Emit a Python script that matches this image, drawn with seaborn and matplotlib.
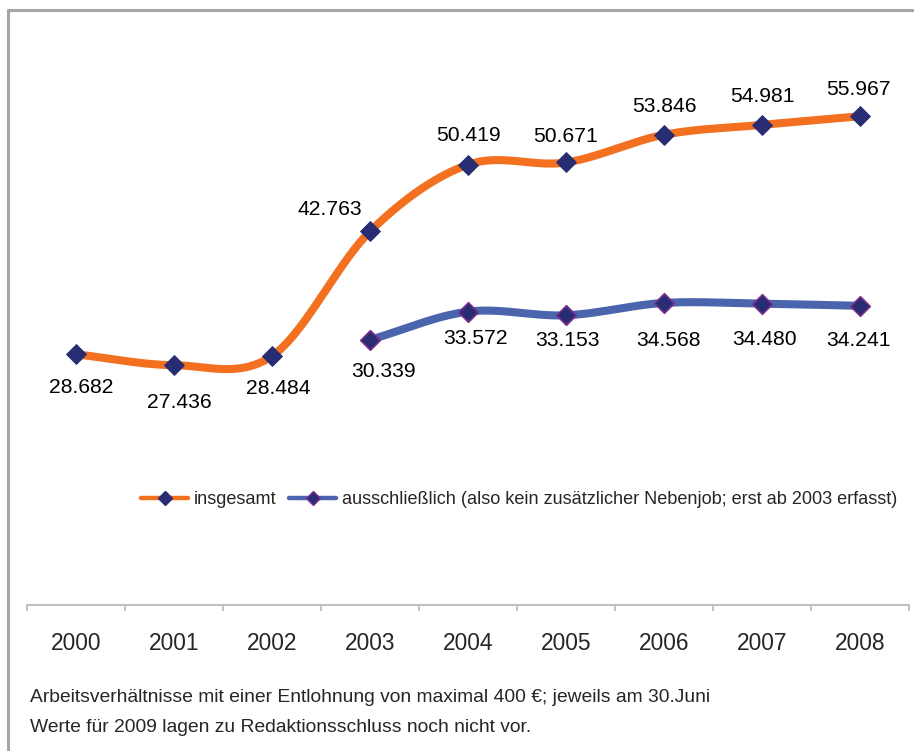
import numpy as np
import pandas as pd
import matplotlib
matplotlib.use("Agg")
import matplotlib.pyplot as plt
from matplotlib.lines import Line2D
import seaborn as sns

# ---- data ----
years = ["2000", "2001", "2002", "2003", "2004", "2005", "2006", "2007", "2008"]
insgesamt = [28.682, 27.436, 28.484, 42.763, 50.419, 50.671, 53.846, 54.981, 55.967]
ausschl_years = ["2003", "2004", "2005", "2006", "2007", "2008"]
ausschl = [30.339, 33.572, 33.153, 34.568, 34.480, 34.241]
series_names = ["insgesamt",
                "ausschließlich (also kein zusätzlicher Nebenjob; erst ab 2003 erfasst)"]
notes = ["Arbeitsverhältnisse mit einer Entlohnung von maximal 400 €; jeweils am 30.Juni",
         "Werte für 2009 lagen zu Redaktionsschluss noch nicht vor."]

# label offsets (pixels, right / down) -- layout only
off_ins = [(5, 33), (5, 37), (6, 32), (-40, -22), (0, -29), (0, -26), (0, -28), (0, -28), (-2, -27)]
off_aus = [(13, 32), (7, 27), (1, 25), (4, 38), (2, 36), (-2, 35)]

ORANGE = "#F37021"
BLUE = "#4A65AD"
NAVY = "#282C72"
PURPLE = "#7A2E8C"
GRAY = "#A6A6A6"

sns.set_style("white")
plt.rcParams["font.family"] = ["Liberation Sans", "DejaVu Sans"]


def smooth(x, y, n=40):
    """Bezier curve through the points with Catmull-Rom tangents (Excel-like smoothing)."""
    P = np.column_stack([x, y]).astype(float)
    Pext = np.vstack([2 * P[0] - P[1], P, 2 * P[-1] - P[-2]])
    out = []
    for i in range(1, len(Pext) - 2):
        p0, p1, p2, p3 = Pext[i - 1], Pext[i], Pext[i + 1], Pext[i + 2]
        c1 = p1 + (p2 - p0) / 6.0
        c2 = p2 - (p3 - p1) / 6.0
        t = np.linspace(0, 1, n)[:, None]
        seg = ((1 - t) ** 3) * p1 + 3 * ((1 - t) ** 2) * t * c1 + 3 * (1 - t) * t ** 2 * c2 + t ** 3 * p2
        out.append(seg if i == 1 else seg[1:])
    s = np.vstack(out)
    return s[:, 0], s[:, 1]


fig = plt.figure(figsize=(9.14, 7.51), dpi=100)
W, H = 914, 751
left_px, right_px = 27, 909
bot_px, top_px = 604.5, 81.1
ax = fig.add_axes([left_px / W, 1 - bot_px / H, (right_px - left_px) / W, (bot_px - top_px) / H])

xi = np.arange(len(years))
xa = np.array([years.index(y) for y in ausschl_years])

sx, sy = smooth(xi, insgesamt)
ax_, ay_ = smooth(xa, ausschl)
df_lines = pd.concat([
    pd.DataFrame({"x": sx, "y": sy, "s": series_names[0]}),
    pd.DataFrame({"x": ax_, "y": ay_, "s": series_names[1]}),
])
sns.lineplot(data=df_lines, x="x", y="y", hue="s", units="s", estimator=None, sort=False,
             palette=[ORANGE, BLUE], linewidth=5.8, legend=False, ax=ax,
             solid_capstyle="butt")

df_pts1 = pd.DataFrame({"x": xi, "y": insgesamt})
df_pts2 = pd.DataFrame({"x": xa, "y": ausschl})
sns.scatterplot(data=df_pts1, x="x", y="y", marker="D", s=100, color=NAVY,
                edgecolor=NAVY, linewidth=0.8, ax=ax, zorder=5)
sns.scatterplot(data=df_pts2, x="x", y="y", marker="D", s=100, color=NAVY,
                edgecolor=PURPLE, linewidth=1.2, ax=ax, zorder=5)


def fmt(v):
    return f"{v:.3f}"


for x, v, (dx, dy) in zip(xi, insgesamt, off_ins):
    ax.annotate(fmt(v), (x, v), xytext=(dx, -dy), textcoords="offset pixels",
                ha="center", va="center", fontsize=15.2, color="black", zorder=6)
for x, v, (dx, dy) in zip(xa, ausschl, off_aus):
    ax.annotate(fmt(v), (x, v), xytext=(dx, -dy), textcoords="offset pixels",
                ha="center", va="center", fontsize=15.2, color="black", zorder=6)

ax.set_xlim(-0.5, len(years) - 0.5)
ax.set_ylim(0, 60)
ax.set_xlabel("")
ax.set_ylabel("")
ax.set_yticks([])
ax.set_xticks(np.arange(-0.5, len(years), 1.0))
ax.set_xticklabels([])
ax.set_xticks(xi, minor=True)
ax.set_xticklabels(years, minor=True)
ax.tick_params(axis="x", which="major", direction="out", length=4.5, width=1.3,
               color="#BFBFBF", bottom=True)
ax.tick_params(axis="x", which="minor", length=0, pad=20, labelsize=16.4)
for s in ["top", "right", "left"]:
    ax.spines[s].set_visible(False)
ax.spines["bottom"].set_color("#BFBFBF")
ax.spines["bottom"].set_linewidth(1.5)
ax.patch.set_alpha(0)

handles = [
    Line2D([], [], color=ORANGE, lw=3.2, marker="D", ms=7.5, mfc=NAVY, mec=NAVY),
    Line2D([], [], color=BLUE, lw=3.2, marker="D", ms=7.5, mfc=NAVY, mec=PURPLE, mew=1.0),
]
fig.legend(handles, series_names, loc="center left", bbox_to_anchor=(141 / W, 1 - 500 / H),
           ncol=2, frameon=False, fontsize=13.1, handlelength=2.6, handletextpad=0.3,
           columnspacing=0.7, borderpad=0, borderaxespad=0)

for i, t in enumerate(notes):
    fig.text(30 / W, 1 - (698 + 29 * i) / H, t, ha="left", va="center", fontsize=13.9)

# chart border (top and left visible)
fig.add_artist(Line2D([8 / W, 8 / W], [0, 1 - 10 / H], color=GRAY, lw=2.2,
                      transform=fig.transFigure))
fig.add_artist(Line2D([8 / W, 1], [1 - 10 / H, 1 - 10 / H], color=GRAY, lw=2.2,
                      transform=fig.transFigure))

fig.savefig("out.png", dpi=100)
